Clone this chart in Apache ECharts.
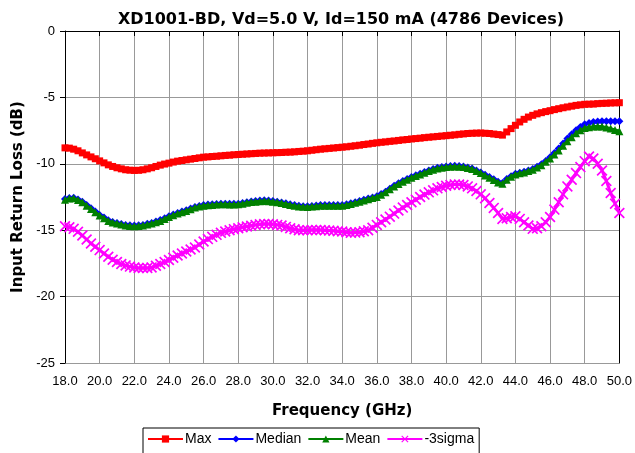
<!DOCTYPE html>
<html>
<head>
<meta charset="utf-8">
<script src="https://cdn.jsdelivr.net/npm/echarts@6/dist/echarts.min.js"></script>
<style>
html,body{margin:0;padding:0;background:#fff;}
#chart{width:635px;height:453px;}
</style>
</head>
<body>
<div id="chart"></div>
<script>
const titleText = 'XD1001-BD, Vd=5.0 V, Id=150 mA (4786 Devices)';
const seriesNames = ['Max', 'Median', 'Mean', '-3sigma'];
const yTicks = [0, -5, -10, -15, -20, -25];

const freq = [
18.00,18.25,18.50,18.75,19.00,19.25,19.50,19.75,20.00,20.25,20.50,20.75,21.00,21.25,21.50,21.75,
22.00,22.25,22.50,22.75,23.00,23.25,23.50,23.75,24.00,24.25,24.50,24.75,25.00,25.25,25.50,25.75,
26.00,26.25,26.50,26.75,27.00,27.25,27.50,27.75,28.00,28.25,28.50,28.75,29.00,29.25,29.50,29.75,
30.00,30.25,30.50,30.75,31.00,31.25,31.50,31.75,32.00,32.25,32.50,32.75,33.00,33.25,33.50,33.75,
34.00,34.25,34.50,34.75,35.00,35.25,35.50,35.75,36.00,36.25,36.50,36.75,37.00,37.25,37.50,37.75,
38.00,38.25,38.50,38.75,39.00,39.25,39.50,39.75,40.00,40.25,40.50,40.75,41.00,41.25,41.50,41.75,
42.00,42.25,42.50,42.75,43.00,43.25,43.50,43.75,44.00,44.25,44.50,44.75,45.00,45.25,45.50,45.75,
46.00,46.25,46.50,46.75,47.00,47.25,47.50,47.75,48.00,48.25,48.50,48.75,49.00,49.25,49.50,49.75,
50.00];

const maxVals = [
-8.80,-8.82,-8.90,-9.02,-9.18,-9.33,-9.48,-9.62,-9.78,-9.93,-10.08,-10.20,-10.30,-10.38,-10.45,-10.48,
-10.50,-10.49,-10.45,-10.38,-10.30,-10.20,-10.10,-10.02,-9.95,-9.87,-9.80,-9.75,-9.70,-9.65,-9.60,-9.55,
-9.50,-9.48,-9.45,-9.43,-9.40,-9.37,-9.35,-9.32,-9.30,-9.28,-9.26,-9.24,-9.22,-9.20,-9.19,-9.18,
-9.17,-9.16,-9.15,-9.13,-9.12,-9.10,-9.07,-9.05,-9.02,-8.98,-8.94,-8.90,-8.87,-8.84,-8.81,-8.78,
-8.75,-8.72,-8.68,-8.64,-8.60,-8.55,-8.51,-8.46,-8.42,-8.38,-8.35,-8.31,-8.28,-8.24,-8.20,-8.17,
-8.13,-8.10,-8.07,-8.03,-8.00,-7.97,-7.94,-7.91,-7.88,-7.85,-7.82,-7.78,-7.75,-7.72,-7.70,-7.69,
-7.68,-7.70,-7.72,-7.76,-7.80,-7.84,-7.60,-7.35,-7.10,-6.85,-6.65,-6.48,-6.35,-6.24,-6.15,-6.07,
-6.00,-5.92,-5.85,-5.78,-5.72,-5.66,-5.60,-5.56,-5.52,-5.51,-5.50,-5.47,-5.45,-5.44,-5.42,-5.41,
-5.40];

const medianVals = [
-12.65,-12.58,-12.55,-12.68,-12.86,-13.10,-13.35,-13.60,-13.85,-14.05,-14.25,-14.38,-14.46,-14.53,-14.60,-14.63,
-14.65,-14.63,-14.60,-14.52,-14.45,-14.35,-14.24,-14.10,-13.95,-13.82,-13.70,-13.60,-13.50,-13.37,-13.25,-13.17,
-13.10,-13.07,-13.05,-13.02,-13.00,-13.00,-13.01,-13.01,-13.00,-12.95,-12.89,-12.83,-12.80,-12.77,-12.75,-12.77,
-12.80,-12.85,-12.91,-12.98,-13.05,-13.11,-13.16,-13.19,-13.20,-13.17,-13.14,-13.11,-13.10,-13.10,-13.11,-13.11,
-13.10,-13.05,-12.97,-12.89,-12.80,-12.71,-12.62,-12.53,-12.45,-12.28,-12.10,-11.87,-11.65,-11.47,-11.30,-11.15,
-11.00,-10.87,-10.75,-10.62,-10.50,-10.40,-10.30,-10.25,-10.20,-10.17,-10.15,-10.17,-10.20,-10.27,-10.35,-10.50,
-10.65,-10.83,-11.00,-11.17,-11.35,-11.45,-11.15,-10.93,-10.75,-10.67,-10.60,-10.50,-10.40,-10.22,-10.03,-9.78,
-9.50,-9.18,-8.85,-8.48,-8.10,-7.78,-7.48,-7.22,-7.02,-6.92,-6.85,-6.82,-6.80,-6.80,-6.80,-6.80,
-6.80];

const meanVals = [
-12.70,-12.62,-12.60,-12.72,-12.90,-13.15,-13.40,-13.65,-13.90,-14.10,-14.30,-14.42,-14.50,-14.58,-14.65,-14.68,
-14.70,-14.68,-14.65,-14.58,-14.50,-14.40,-14.30,-14.15,-14.00,-13.88,-13.75,-13.65,-13.55,-13.42,-13.30,-13.22,
-13.15,-13.12,-13.10,-13.07,-13.05,-13.05,-13.06,-13.06,-13.05,-13.00,-12.94,-12.88,-12.85,-12.82,-12.80,-12.82,
-12.85,-12.90,-12.96,-13.03,-13.10,-13.16,-13.21,-13.24,-13.25,-13.22,-13.19,-13.16,-13.15,-13.15,-13.16,-13.16,
-13.15,-13.10,-13.02,-12.94,-12.85,-12.76,-12.67,-12.58,-12.50,-12.33,-12.15,-11.92,-11.70,-11.52,-11.35,-11.20,
-11.05,-10.92,-10.80,-10.67,-10.55,-10.45,-10.35,-10.30,-10.25,-10.22,-10.20,-10.22,-10.25,-10.32,-10.40,-10.55,
-10.70,-10.88,-11.05,-11.22,-11.40,-11.50,-11.20,-10.98,-10.80,-10.72,-10.65,-10.55,-10.45,-10.28,-10.10,-9.85,
-9.60,-9.30,-9.00,-8.65,-8.30,-8.00,-7.70,-7.48,-7.30,-7.24,-7.20,-7.19,-7.20,-7.27,-7.35,-7.45,
-7.55];

const sigmaVals = [
-14.70,-14.78,-14.90,-15.12,-15.40,-15.70,-16.00,-16.25,-16.50,-16.75,-17.00,-17.22,-17.40,-17.55,-17.65,-17.74,
-17.80,-17.84,-17.85,-17.84,-17.80,-17.68,-17.55,-17.40,-17.25,-17.08,-16.90,-16.75,-16.60,-16.45,-16.30,-16.08,
-15.85,-15.67,-15.50,-15.35,-15.20,-15.10,-15.00,-14.92,-14.85,-14.78,-14.72,-14.66,-14.60,-14.56,-14.53,-14.53,
-14.55,-14.60,-14.65,-14.75,-14.85,-14.93,-15.00,-15.01,-15.00,-14.99,-14.98,-14.99,-15.00,-15.03,-15.05,-15.08,
-15.10,-15.15,-15.20,-15.18,-15.15,-15.08,-15.00,-14.82,-14.60,-14.40,-14.20,-13.98,-13.75,-13.52,-13.30,-13.10,
-12.90,-12.70,-12.50,-12.32,-12.15,-12.00,-11.85,-11.75,-11.65,-11.60,-11.55,-11.56,-11.60,-11.70,-11.85,-12.05,
-12.30,-12.60,-12.95,-13.32,-13.70,-14.15,-14.10,-14.00,-13.95,-14.15,-14.40,-14.65,-14.90,-14.85,-14.70,-14.40,
-14.00,-13.45,-12.90,-12.30,-11.70,-11.20,-10.70,-10.25,-9.80,-9.45,-9.60,-10.00,-10.50,-11.30,-12.20,-13.00,
-13.70];

function pairs(vals){ return freq.map((f,i)=>[f, vals[i]]); }

const xSym = 'path://M0,1.1L1.1,0L5,3.9L8.9,0L10,1.1L6.1,5L10,8.9L8.9,10L5,6.1L1.1,10L0,8.9L3.9,5Z';

const chart = echarts.init(document.getElementById('chart'), null, {renderer:'canvas'});
const labelFont = 'Liberation Sans, Arial, sans-serif';
const boldFont = 'DejaVu Sans, Verdana, sans-serif';

chart.setOption({
  animation: false,
  backgroundColor: '#fff',
  title: {
    text: titleText,
    left: 336, textAlign: 'center', top: 7,
    textStyle: {fontFamily: boldFont, fontWeight: 'bold', fontSize: 16, color: '#000'}
  },
  grid: {left: 65, right: 15, top: 31, bottom: 90, containLabel: false},
  xAxis: {
    type: 'value', min: 18, max: 50, interval: 2,
    name: 'Frequency (GHz)', nameLocation: 'middle', nameGap: 41,
    nameTextStyle: {fontFamily: boldFont, fontWeight: 'bold', fontSize: 15, color: '#000'},
    axisLine: {show: true, lineStyle: {color: '#000', width: 1}},
    axisTick: {show: true, length: 5, inside: false, lineStyle: {color: '#000'}},
    axisLabel: {fontFamily: labelFont, fontSize: 13, color: '#000', margin: 12,
      formatter: v => v.toFixed(1)},
    splitLine: {show: true, lineStyle: {color: '#999', width: 1}}
  },
  yAxis: [{
    type: 'value', min: -25, max: 0, interval: 5,
    name: 'Input Return Loss (dB)', nameLocation: 'middle', nameGap: 39, nameRotate: 90,
    nameTextStyle: {fontFamily: boldFont, fontWeight: 'bold', fontSize: 15, color: '#000'},
    axisLine: {show: true, onZero: false, lineStyle: {color: '#000', width: 1}},
    axisTick: {show: true, length: 5, lineStyle: {color: '#000'}},
    axisLabel: {fontFamily: labelFont, fontSize: 13, color: '#000', margin: 10,
      formatter: v => (yTicks.indexOf(v) >= 0 ? String(v) : '')},
    splitLine: {show: true, lineStyle: {color: '#999', width: 1}}
  }, {
    type: 'value', min: -25, max: 0, interval: 5, position: 'right',
    axisLine: {show: true, lineStyle: {color: '#000', width: 1}},
    axisTick: {show: false}, axisLabel: {show: false}, splitLine: {show: false}
  }],
  legend: {
    data: seriesNames,
    left: 143, top: 428,
    orient: 'horizontal',
    itemGap: 6, itemWidth: 35, itemHeight: 9,
    padding: [4, 5, 10, 4],
    borderColor: '#000', borderWidth: 1,
    textStyle: {fontFamily: labelFont, fontSize: 14, color: '#000', padding: [0,0,0,-3]}
  },
  series: [
    {name: seriesNames[0], type: 'line', data: pairs(maxVals), symbol: 'rect', symbolSize: 7,
      lineStyle: {color: '#ff0000', width: 3}, itemStyle: {color: '#ff0000'}, z: 2},
    {name: seriesNames[1], type: 'line', data: pairs(medianVals), symbol: 'diamond', symbolSize: 8,
      lineStyle: {color: '#0000ff', width: 3}, itemStyle: {color: '#0000ff'}, z: 3},
    {name: seriesNames[2], type: 'line', data: pairs(meanVals), symbol: 'triangle', symbolSize: 8,
      lineStyle: {color: '#008000', width: 3}, itemStyle: {color: '#008000'}, z: 4},
    {name: seriesNames[3], type: 'line', data: pairs(sigmaVals), symbol: xSym, symbolSize: 11,
      lineStyle: {color: '#ff00ff', width: 3}, itemStyle: {color: '#ff00ff'}, z: 5}
  ]
});
</script>
</body>
</html>
